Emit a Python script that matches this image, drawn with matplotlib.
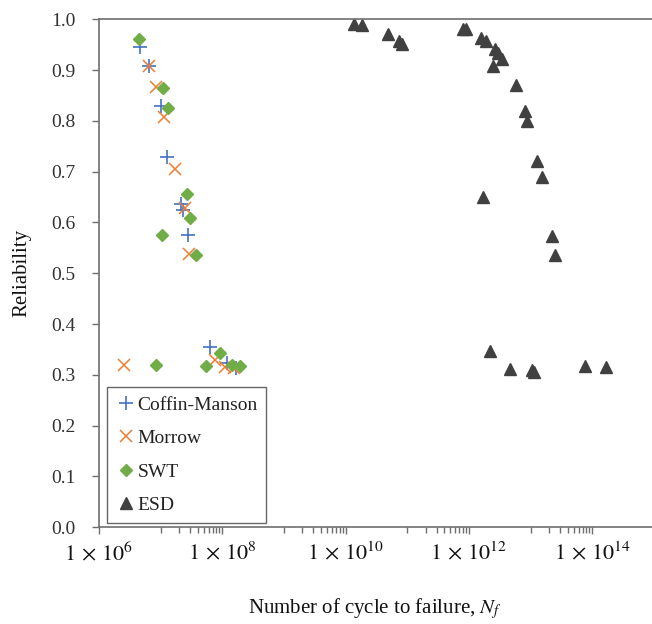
import numpy as np
import matplotlib
matplotlib.use('Agg')
import matplotlib.pyplot as plt
from matplotlib.ticker import FixedLocator, NullFormatter

plt.rcParams['font.family'] = ['Liberation Serif', 'DejaVu Serif']
plt.rcParams['mathtext.fontset'] = 'stix'

# log10 of cycles to failure and reliability
cm_logn = [6.66, 6.81, 7.00, 7.11, 7.33, 7.36, 7.44, 7.80, 8.07, 8.23]
cm_rel = [0.945, 0.908, 0.830, 0.729, 0.636, 0.625, 0.576, 0.354, 0.323, 0.313]

morrow_logn = [6.81, 6.92, 7.06, 7.23, 7.39, 7.46, 6.41, 7.89, 8.04, 8.19]
morrow_rel = [0.908, 0.867, 0.807, 0.706, 0.628, 0.538, 0.320, 0.329, 0.316, 0.313]

swt_logn = [6.65, 7.04, 7.12, 7.42, 7.47, 7.03, 7.58, 6.93, 7.74, 7.96, 8.15, 8.28]
swt_rel = [0.962, 0.865, 0.826, 0.656, 0.608, 0.576, 0.536, 0.320, 0.318, 0.343, 0.320, 0.318]

esd_logn = [10.13, 10.26, 10.69, 10.86, 10.92, 11.90, 11.96, 12.20, 12.28, 12.43,
            12.47, 12.53, 12.39, 12.76, 12.91, 12.95, 13.11, 13.18, 12.23, 13.35,
            13.39, 12.34, 12.66, 13.03, 13.05, 13.89, 14.22]
esd_rel = [0.992, 0.990, 0.972, 0.958, 0.951, 0.982, 0.982, 0.964, 0.957, 0.942,
           0.934, 0.922, 0.908, 0.870, 0.819, 0.799, 0.722, 0.690, 0.650, 0.573,
           0.535, 0.347, 0.312, 0.310, 0.306, 0.318, 0.315]

text_col = '#333333'
spine_col = '#6e6e6e'

fig = plt.figure(figsize=(6.52, 6.24), dpi=100)
ax = fig.add_axes([0.1518, 0.1554, 0.8482, 0.8134])

ax.plot(10 ** np.array(cm_logn), cm_rel, linestyle='none', marker='+', ms=10,
        mew=1.2, color='#4472C4', label='Coffin-Manson')
ax.plot(10 ** np.array(morrow_logn), morrow_rel, linestyle='none', marker='x', ms=9,
        mew=1.1, color='#ED7D31', label='Morrow')
ax.plot(10 ** np.array(swt_logn), swt_rel, linestyle='none', marker='D', ms=6.5,
        color='#70AD47', label='SWT')
ax.plot(10 ** np.array(esd_logn), esd_rel, linestyle='none', marker='^', ms=8.5,
        color='#404040', label='ESD')

ax.set_xscale('log')
ax.set_xlim(1e6, 10 ** 14.97)
ax.set_ylim(0, 1.0)

major = [1e6, 1e8, 1e10, 1e12, 1e14]
ax.xaxis.set_major_locator(FixedLocator(major))
ax.set_xticklabels([r'$1{\,}\times{\,}10^{%d}$' % e for e in (6, 8, 10, 12, 14)])
minor = [k * 10.0 ** e for e in (7, 9, 11, 13) for k in range(1, 10)]
ax.xaxis.set_minor_locator(FixedLocator(minor))
ax.xaxis.set_minor_formatter(NullFormatter())

ax.set_yticks(np.arange(0, 1.01, 0.1))
ax.set_yticklabels(['%.1f' % v for v in np.arange(0, 1.01, 0.1)])

ax.tick_params(axis='both', which='major', direction='out', length=5, width=1,
               colors=spine_col, labelcolor=text_col, labelsize=14)
ax.tick_params(axis='x', which='major', labelsize=16, labelcolor='#111111', pad=6)
ax.tick_params(axis='y', which='major', pad=12)
ax.tick_params(axis='x', which='minor', direction='out', length=4, width=1,
               colors=spine_col)
ax.tick_params(top=False, right=False)

for side in ('left', 'bottom', 'top'):
    ax.spines[side].set_color(spine_col)
    ax.spines[side].set_linewidth(1.2)
ax.spines['right'].set_visible(False)

ax.set_ylabel('Reliability', fontsize=15, color='#111111', labelpad=14)
ax.set_xlabel(r'Number of cycle to failure, $N_f$', fontsize=15, color='#111111',
              labelpad=22)

leg = ax.legend(loc='lower left', bbox_to_anchor=(0.015, 0.008), fontsize=14,
                frameon=True, fancybox=False, handletextpad=0.1, handlelength=1.0,
                borderpad=0.45, labelspacing=0.82, borderaxespad=0)
leg.get_frame().set_edgecolor('#404040')
leg.get_frame().set_linewidth(1.0)
for t in leg.get_texts():
    t.set_color('#222222')

fig.savefig('out.png', dpi=100)
